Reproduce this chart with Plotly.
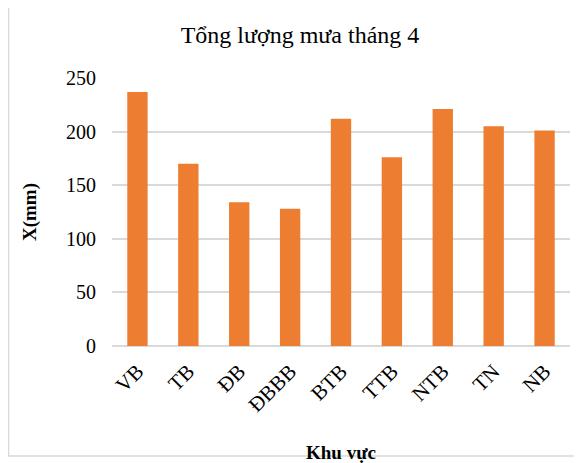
import plotly.graph_objects as go

categories = ["VB", "TB", "ĐB", "ĐBBB", "BTB", "TTB", "NTB", "TN", "NB"]
rainfall = [237, 170, 134, 128, 212, 176, 221, 205, 201]
y_ticks = [0, 50, 100, 150, 200, 250]

# page has an 8px body margin, so the figure is offset by (8, 8)
OFF = 8
W, H = 582 - OFF, 463 - OFF
L, R, T, B = 112 - OFF, 12, 78 - OFF, 117
pw, ph = W - L - R, H - T - B

fig = go.Figure(go.Bar(x=categories, y=rainfall, marker=dict(color="#ED7D31", line=dict(width=0))))

font_family = "Liberation Serif, Times New Roman, serif"
fig.update_layout(
    width=W, height=H,
    margin=dict(l=L, r=R, t=T, b=B, autoexpand=False),
    paper_bgcolor="white", plot_bgcolor="white",
    bargap=0.6,
    showlegend=False,
    font=dict(family=font_family, color="#000000", size=20),
    title=dict(text="Tổng lượng mưa tháng 4", x=(300 - OFF) / W, xanchor="center",
               y=1 - (35 - OFF) / H, yanchor="middle",
               font=dict(family=font_family, size=24, color="#000000")),
    xaxis=dict(tickangle=-45, showgrid=False, showline=False, ticks="",
               tickfont=dict(size=21), automargin=False, ticklabelstandoff=8,
               title=dict(text="<b>Khu vực</b>", font=dict(size=19), standoff=37)),
    yaxis=dict(range=[0, 250], tickvals=y_ticks, showgrid=True, gridcolor="#D9D9D9",
               gridwidth=1.5, zeroline=True, zerolinecolor="#D9D9D9", zerolinewidth=1.5,
               showline=False, ticks="", tickfont=dict(size=20), ticklabelstandoff=15,
               automargin=False,
               title=dict(text="<b>X(mm)</b>", font=dict(size=19), standoff=24)),
    shapes=[dict(type="rect", xref="paper", yref="paper",
                 x0=(0.5 - L) / pw, x1=(W + 40 - L) / pw,
                 y0=(H - T - (H + 40)) / ph, y1=(H - T - 0.5) / ph,
                 line=dict(color="#D9D9D9", width=1.5), fillcolor="rgba(0,0,0,0)", layer="below")],
)

fig.write_html("out.html")
